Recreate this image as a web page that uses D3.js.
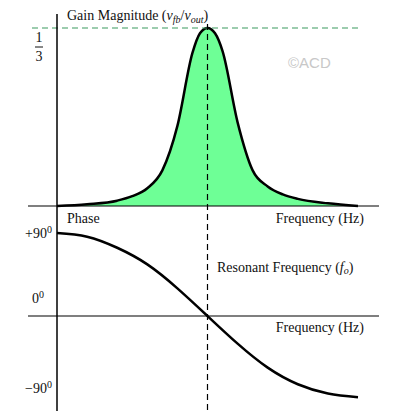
<!DOCTYPE html>
<html><head><meta charset="utf-8">
<script src="https://cdn.jsdelivr.net/npm/d3@7"></script>
<style>body{margin:0;background:#fff}text{font-family:"Liberation Serif",serif;font-size:14px;fill:#111}</style>
</head><body><svg id="c" width="400" height="419"></svg>
<script>
// frequency positions (arbitrary units, resonance at 5)
const freq = [0, 1, 2, 2.5, 3, 3.5, 4, 4.5, 4.75, 5, 5.25, 5.5, 6, 6.5, 7, 7.5, 8, 9, 10];
// gain relative to peak of 1/3
const gain = [0, 0.01, 0.03, 0.055, 0.1, 0.2, 0.45, 0.86, 0.97, 1, 0.97, 0.87, 0.47, 0.2, 0.11, 0.065, 0.04, 0.015, 0];
const phaseFreq = [0, 1, 2, 3, 4, 5, 6, 7, 8, 9, 10];
const phase = [90, 86, 74, 56, 30, 0, -30, -56, -74, -84, -88];
const fo = 5;

const svg = d3.select('#c');
const x = d3.scaleLinear().domain([0, 10]).range([57, 358]);
const yG = d3.scaleLinear().domain([0, 1]).range([206, 28]);
const yP = d3.scaleLinear().domain([-90, 90]).range([399, 233]);

const gData = freq.map((f, i) => [f, gain[i]]);
const area = d3.area().x(d => x(d[0])).y0(yG(0)).y1(d => yG(d[1])).curve(d3.curveMonotoneX);
const line = d3.line().x(d => x(d[0])).y(d => yG(d[1])).curve(d3.curveMonotoneX);
svg.append('path').attr('d', area(gData)).attr('fill', '#6eff96');
svg.append('path').attr('d', line(gData)).attr('fill', 'none').attr('stroke', '#000').attr('stroke-width', 2.5);

// peak reference line
svg.append('line').attr('x1', 32).attr('x2', 358).attr('y1', yG(1)).attr('y2', yG(1))
    .attr('stroke', '#3a9a5e').attr('stroke-width', 1.2).attr('stroke-dasharray', '6,4');

// axes
svg.append('line').attr('x1', 57).attr('x2', 57).attr('y1', 14).attr('y2', 411).attr('stroke', '#000').attr('stroke-width', 1.5);
svg.append('line').attr('x1', 28).attr('x2', 379).attr('y1', yG(0)).attr('y2', yG(0)).attr('stroke', '#000').attr('stroke-width', 1.2);
svg.append('line').attr('x1', 28).attr('x2', 379).attr('y1', yP(0)).attr('y2', yP(0)).attr('stroke', '#000').attr('stroke-width', 1.2);

// resonant marker
svg.append('line').attr('x1', x(fo)).attr('x2', x(fo)).attr('y1', 24).attr('y2', 412)
    .attr('stroke', '#000').attr('stroke-width', 1.2).attr('stroke-dasharray', '6,4');

const pData = phaseFreq.map((f, i) => [f, phase[i]]);
svg.append('path').attr('d', d3.line().x(d => x(d[0])).y(d => yP(d[1])).curve(d3.curveNatural)(pData))
    .attr('fill', 'none').attr('stroke', '#000').attr('stroke-width', 2.5);

// texts
const t = svg.append('text').attr('x', 67).attr('y', 20);
t.append('tspan').text('Gain Magnitude (');
t.append('tspan').attr('font-style', 'italic').text('v');
t.append('tspan').attr('font-style', 'italic').attr('font-size', 10).attr('dy', 3).text('fb');
t.append('tspan').attr('dy', -3).text('/');
t.append('tspan').attr('font-style', 'italic').text('v');
t.append('tspan').attr('font-style', 'italic').attr('font-size', 10).attr('dy', 3).text('out');
t.append('tspan').attr('dy', -3).text(')');

svg.append('text').attr('x', 39).attr('y', 42).attr('text-anchor', 'middle').text('1');
svg.append('line').attr('x1', 35).attr('x2', 43).attr('y1', 47).attr('y2', 47).attr('stroke', '#111');
svg.append('text').attr('x', 39).attr('y', 61).attr('text-anchor', 'middle').text('3');

svg.append('text').attr('x', 288).attr('y', 68).style('font-family', '"Liberation Sans",sans-serif')
    .style('font-size', '15px').style('fill', '#c8c8c8').text('©ACD');

svg.append('text').attr('x', 67).attr('y', 223).text('Phase');
svg.append('text').attr('x', 364).attr('y', 223).attr('text-anchor', 'end').text('Frequency (Hz)');
svg.append('text').attr('x', 364).attr('y', 332).attr('text-anchor', 'end').text('Frequency (Hz)');

const deg = (xx, yy, s) => {
    const e = svg.append('text').attr('x', xx).attr('y', yy);
    e.append('tspan').text(s);
    e.append('tspan').attr('font-size', 10).attr('dy', -5).text('0');
};
deg(25, 238, '+90');
deg(32, 303, '0');
deg(25, 393, '\u221290');

const r = svg.append('text').attr('x', 217).attr('y', 272);
r.append('tspan').text('Resonant Frequency (');
r.append('tspan').attr('font-style', 'italic').text('f');
r.append('tspan').attr('font-style', 'italic').attr('font-size', 10).attr('dy', 2).text('o');
r.append('tspan').attr('dy', -2).text(')');
</script></body></html>
